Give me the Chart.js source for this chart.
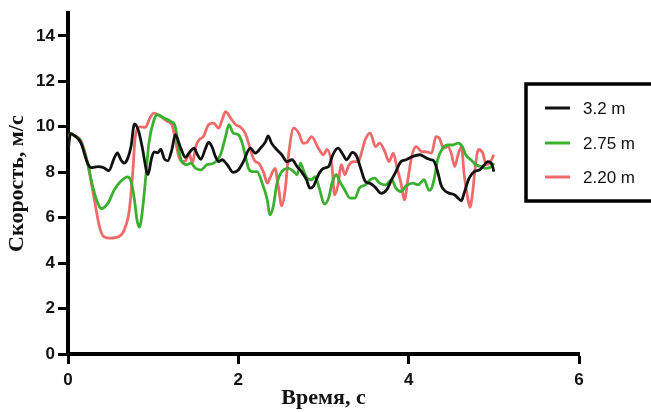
<!DOCTYPE html>
<html>
<head>
<meta charset="utf-8">
<script src="https://cdn.jsdelivr.net/npm/chart.js@4.4.0/dist/chart.umd.min.js"></script>
<style>
    body { margin: 0; background: #fff; }
    #wrap { width: 651px; height: 412px; }
</style>
</head>
<body>
<div id="wrap"><canvas id="speedChart" width="651" height="412"></canvas></div>
<script>
// Series data (time in s, speed in m/s)
const seriesLabels = ['3.2 m', '2.75 m', '2.20 m'];
const seriesColors = ['#111111', '#3bb030', '#ef6b6b'];

const blackTime = [0, 0.03, 0.08, 0.15, 0.23, 0.27, 0.35, 0.42, 0.48, 0.54, 0.58, 0.62, 0.66, 0.70, 0.74, 0.78, 0.83, 0.87, 0.94, 0.98,
    1.01, 1.05, 1.09, 1.13, 1.17, 1.22, 1.26, 1.32, 1.38, 1.42, 1.48, 1.52, 1.56, 1.61, 1.65, 1.69, 1.73, 1.77, 1.81, 1.87, 1.94,
    2.0, 2.06, 2.14, 2.20, 2.26, 2.32, 2.35, 2.39, 2.45, 2.51, 2.57, 2.63, 2.69, 2.74, 2.80, 2.84, 2.88, 2.94,
    3.0, 3.06, 3.11, 3.17, 3.23, 3.27, 3.34, 3.39, 3.43, 3.49, 3.54, 3.60, 3.68, 3.74, 3.80, 3.85, 3.91, 3.97,
    4.05, 4.13, 4.21, 4.26, 4.30, 4.34, 4.38, 4.42, 4.48, 4.54, 4.58, 4.62, 4.65, 4.71, 4.77, 4.83, 4.89, 4.93, 4.98, 5.0];
const blackSpeed = [8.9, 9.7, 9.6, 9.3, 8.4, 8.2, 8.25, 8.2, 8.07, 8.6, 8.85, 8.55, 8.4, 8.6, 9.13, 10.13, 9.8, 9.13, 7.9, 8.6,
    8.9, 8.85, 9.0, 8.6, 8.5, 9.0, 9.65, 9.1, 8.65, 8.84, 9.06, 8.77, 8.57, 9.0, 9.31, 9.13, 8.7, 8.47, 8.55, 8.33, 7.99,
    8.1, 8.47, 9.06, 8.84, 9.06, 9.35, 9.6, 9.28, 9.0, 8.77, 8.47, 8.55, 8.25, 8.03, 7.67, 7.3, 7.37, 7.89,
    8.17, 8.25, 8.77, 9.06, 8.77, 8.55, 8.87, 8.7, 8.25, 7.6, 7.52, 7.37, 7.07, 7.22, 7.67, 8.03, 8.47, 8.55,
    8.7, 8.77, 8.62, 8.55, 8.47, 8.03, 7.44, 7.2, 7.07, 7.0, 6.86, 6.75, 7.07, 7.74, 8.03, 8.1, 8.33, 8.47, 8.33, 8.03];

const greenTime = [0, 0.03, 0.08, 0.15, 0.23, 0.29, 0.35, 0.39, 0.47, 0.54, 0.62, 0.70, 0.74, 0.78, 0.81, 0.84, 0.87, 0.91, 0.95,
    1.01, 1.05, 1.13, 1.21, 1.26, 1.30, 1.34, 1.40, 1.44, 1.50, 1.56, 1.63, 1.71, 1.79, 1.85, 1.89, 1.94,
    2.0, 2.04, 2.08, 2.12, 2.16, 2.22, 2.28, 2.34, 2.37, 2.41, 2.45, 2.51, 2.59, 2.65, 2.69, 2.73, 2.77, 2.82, 2.86, 2.90, 2.95,
    3.01, 3.06, 3.10, 3.15, 3.19, 3.25, 3.31, 3.37, 3.42, 3.49, 3.55, 3.60, 3.66, 3.73, 3.80, 3.85, 3.91, 3.97,
    4.05, 4.11, 4.18, 4.24, 4.27, 4.31, 4.34, 4.40, 4.46, 4.52, 4.58, 4.63, 4.67, 4.73, 4.79, 4.85, 4.91, 4.97, 5.0];
const greenSpeed = [9.5, 9.7, 9.6, 9.35, 8.4, 7.37, 6.64, 6.4, 6.64, 7.2, 7.6, 7.8, 7.6, 6.8, 5.9, 5.58, 6.2, 7.67, 9.28,
    10.3, 10.53, 10.38, 10.23, 10.0, 9.0, 8.45, 8.33, 8.4, 8.17, 8.1, 8.33, 8.4, 8.77, 9.57, 10.09, 9.72,
    9.65, 9.35, 8.77, 8.17, 8.03, 8.03, 7.52, 6.78, 6.12, 6.49, 7.44, 8.03, 8.17, 8.03, 7.89, 8.4, 8.03, 7.7, 7.67, 7.81, 7.3,
    6.6, 6.86, 7.52, 7.89, 7.6, 7.22, 6.86, 6.86, 7.3, 7.44, 7.67, 7.74, 7.52, 7.44, 7.67, 7.3, 7.15, 7.4,
    7.52, 7.44, 7.67, 7.2, 7.3, 7.89, 8.55, 9.06, 9.2, 9.2, 9.28, 9.13, 8.77, 8.55, 8.33, 8.25, 8.17, 8.25, 8.4];

const redTime = [0, 0.03, 0.08, 0.15, 0.23, 0.31, 0.37, 0.42, 0.50, 0.60, 0.66, 0.72, 0.76, 0.79, 0.85, 0.91, 0.96,
    1.01, 1.09, 1.17, 1.22, 1.26, 1.30, 1.34, 1.38, 1.42, 1.46, 1.50, 1.54, 1.59, 1.65, 1.71, 1.77, 1.81, 1.85, 1.91, 1.97,
    2.02, 2.08, 2.12, 2.16, 2.20, 2.24, 2.30, 2.34, 2.37, 2.43, 2.47, 2.51, 2.55, 2.59, 2.65, 2.71, 2.76, 2.80, 2.86, 2.94,
    3.0, 3.04, 3.10, 3.13, 3.17, 3.21, 3.25, 3.30, 3.35, 3.41, 3.45, 3.49, 3.55, 3.61, 3.66, 3.72, 3.77, 3.82, 3.86, 3.91, 3.95, 3.99,
    4.04, 4.09, 4.15, 4.21, 4.27, 4.32, 4.36, 4.41, 4.46, 4.50, 4.54, 4.58, 4.62, 4.65, 4.69, 4.72, 4.75, 4.78, 4.82, 4.87, 4.91, 4.95, 5.0];
const redSpeed = [9.5, 9.7, 9.6, 9.4, 8.4, 6.78, 5.6, 5.17, 5.1, 5.17, 5.46, 6.34, 7.96, 9.57, 10.0, 9.98, 10.38,
    10.6, 10.45, 10.23, 10.09, 9.43, 8.7, 8.47, 8.5, 8.84, 8.4, 9.13, 9.43, 9.57, 10.09, 10.16, 9.94, 10.31, 10.67, 10.38, 10.09,
    10.0, 9.72, 9.28, 8.77, 8.47, 8.4, 7.96, 7.52, 7.74, 8.17, 7.37, 6.52, 7.22, 8.77, 9.94, 9.72, 9.28, 9.3, 9.57, 9.06,
    8.77, 9.0, 8.25, 7.0, 7.44, 8.33, 7.89, 8.33, 8.47, 8.47, 8.91, 9.43, 9.72, 9.13, 9.28, 8.91, 8.47, 8.84, 8.25, 7.52, 6.78, 7.67,
    8.77, 9.13, 8.91, 8.9, 8.84, 9.57, 9.5, 9.06, 9.13, 8.84, 8.25, 8.77, 9.13, 7.96, 6.93, 6.46, 7.07, 8.17, 9.0, 8.84, 8.33, 8.4, 8.77];

const xTicks = [0, 2, 4, 6];
const yTicks = [0, 2, 4, 6, 8, 10, 12, 14];

function toPoints(times, values) {
    return times.map((t, i) => ({ x: t, y: values[i] }));
}

// Boxed legend on the right, drawn on the canvas
const boxLegend = {
    id: 'boxLegend',
    afterDraw(chart) {
        const ctx = chart.ctx;
        ctx.save();
        ctx.lineWidth = 3.5;
        ctx.strokeStyle = '#000';
        ctx.strokeRect(526, 84, 140, 117);
        ctx.font = '17px "Liberation Sans", Arial, sans-serif';
        ctx.textBaseline = 'middle';
        const rows = [108, 143, 177];
        seriesLabels.forEach((label, i) => {
            ctx.strokeStyle = seriesColors[i];
            ctx.lineWidth = 3;
            ctx.beginPath();
            ctx.moveTo(545, rows[i]);
            ctx.lineTo(570, rows[i]);
            ctx.stroke();
            ctx.fillStyle = '#111';
            ctx.fillText(label, 583, rows[i] + 1);
        });
        ctx.restore();
    }
};

const tickFont = { family: '"Liberation Sans", Arial, sans-serif', size: 17, weight: 'bold' };
const titleFont = { family: '"Liberation Serif", "Times New Roman", serif', size: 22, weight: 'bold' };

const ctx = document.getElementById('speedChart').getContext('2d');
new Chart(ctx, {
    type: 'line',
    data: {
        datasets: [
            { label: seriesLabels[0], data: toPoints(blackTime, blackSpeed), borderColor: seriesColors[0] },
            { label: seriesLabels[1], data: toPoints(greenTime, greenSpeed), borderColor: seriesColors[1] },
            { label: seriesLabels[2], data: toPoints(redTime, redSpeed), borderColor: seriesColors[2] }
        ]
    },
    options: {
        responsive: false,
        animation: false,
        layout: { padding: { top: 12, right: 72, left: 0, bottom: 0 } },
        elements: {
            line: { borderWidth: 2.8, cubicInterpolationMode: 'monotone', fill: false },
            point: { radius: 0, hoverRadius: 0 }
        },
        plugins: {
            legend: { display: false },
            tooltip: { enabled: false }
        },
        scales: {
            x: {
                type: 'linear',
                min: 0,
                max: 6,
                afterFit: scale => { scale.height = 58; },
                afterBuildTicks: scale => { scale.ticks = xTicks.map(v => ({ value: v })); },
                border: { color: '#000', width: 4 },
                grid: { drawOnChartArea: false, drawTicks: true, tickLength: 10, tickWidth: 3, color: '#000' },
                ticks: { color: '#111', font: tickFont, padding: 6, maxRotation: 0 },
                title: { display: true, text: 'Время, с', color: '#111', font: titleFont, padding: { top: 0, bottom: 0 } }
            },
            y: {
                min: 0,
                max: 15,
                afterFit: scale => { scale.width = 68; },
                afterBuildTicks: scale => { scale.ticks = yTicks.map(v => ({ value: v })); },
                border: { color: '#000', width: 4 },
                grid: { drawOnChartArea: false, drawTicks: true, tickLength: 10, tickWidth: 3, color: '#000' },
                ticks: { color: '#111', font: tickFont, padding: 3 },
                title: { display: true, text: 'Скорость, м/с', color: '#111', font: titleFont, padding: { top: 4, bottom: 0 } }
            }
        }
    },
    plugins: [boxLegend]
});
</script>
</body>
</html>
